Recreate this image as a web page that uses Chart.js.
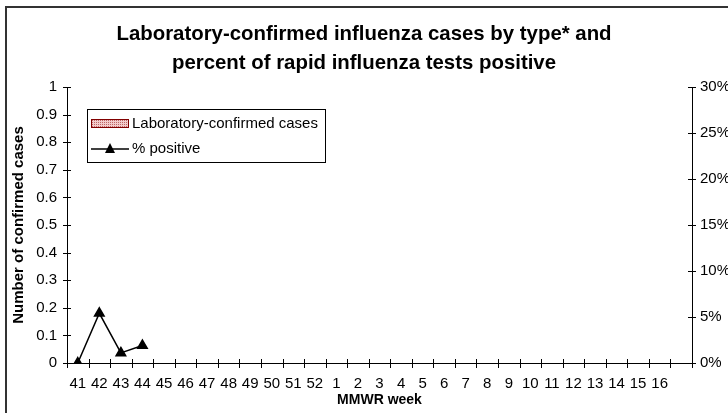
<!DOCTYPE html>
<html>
<head>
<meta charset="utf-8">
<script src="https://cdn.jsdelivr.net/npm/chart.js@4"></script>
<style>
  body { margin: 0; background: #fff; }
  #wrap { position: relative; width: 728px; height: 413px; }
</style>
</head>
<body>
<div id="wrap"><canvas id="chart"></canvas></div>
<script>
// weeks shown on the x axis (last slot is an unlabeled category)
const weeks = ["41","42","43","44","45","46","47","48","49","50","51","52",
               "1","2","3","4","5","6","7","8","9","10","11","12","13","14","15","16",""];
const labCases = [0, 0, 0, 0];
const pctPositive = [0, 5.4, 1.1, 1.9];
const titleLines = ["Laboratory-confirmed influenza cases by type* and",
                    "percent of rapid influenza tests positive"];

const FONT = "Arial, 'Liberation Sans', sans-serif";

// dotted pink fill like the legend swatch
function makePattern() {
    const c = document.createElement("canvas");
    c.width = 4; c.height = 4;
    const g = c.getContext("2d");
    g.fillStyle = "#f2cccc";
    g.fillRect(0, 0, 4, 4);
    g.fillStyle = "#c06666";
    g.fillRect(0, 0, 1, 1);
    g.fillRect(2, 2, 1, 1);
    g.fillRect(2, 0, 1, 1);
    g.fillRect(0, 2, 1, 1);
    return g.createPattern(c, "repeat");
}
const pattern = makePattern();

// outer frame + crossing tick marks + legend box
const decor = {
    id: "decor",
    beforeDraw(chart) {
        const ctx = chart.ctx;
        ctx.save();
        ctx.fillStyle = "#fff";
        ctx.fillRect(0, 0, chart.width, chart.height);
        ctx.strokeStyle = "#333";
        ctx.lineWidth = 2;
        ctx.strokeRect(6, 7, 900, 600);
        ctx.restore();
    },
    afterDraw(chart) {
        const ctx = chart.ctx;
        const x = chart.scales.x, y = chart.scales.y, y1 = chart.scales.y1;
        ctx.save();
        ctx.strokeStyle = "#000";
        ctx.lineWidth = 1;
        ctx.beginPath();
        y.ticks.forEach((t, i) => {
            const py = Math.round(y.getPixelForTick(i)) + 0.5;
            ctx.moveTo(y.right - 4, py); ctx.lineTo(y.right + 4, py);
        });
        y1.ticks.forEach((t, i) => {
            const py = Math.round(y1.getPixelForTick(i)) + 0.5;
            ctx.moveTo(y1.left - 4, py); ctx.lineTo(y1.left + 4, py);
        });
        const half = (x.getPixelForValue(1) - x.getPixelForValue(0)) / 2;
        for (let i = 0; i <= weeks.length; i++) {
            const px = Math.round(x.getPixelForValue(i) - half) + 0.5;
            ctx.moveTo(px, x.top - 4); ctx.lineTo(px, x.top + 5);
        }
        ctx.stroke();

        // legend
        const ca = chart.chartArea;
        const lx = ca.left + 20, ly = ca.top + 22;
        ctx.lineWidth = 1;
        ctx.strokeStyle = "#000";
        ctx.fillStyle = "#fff";
        ctx.fillRect(lx + 0.5, ly + 0.5, 238, 53);
        ctx.strokeRect(lx + 0.5, ly + 0.5, 238, 53);
        const ds = chart.data.datasets;
        ctx.fillStyle = pattern;
        ctx.fillRect(lx + 4.5, ly + 10.5, 37, 8);
        ctx.strokeStyle = "#800000";
        ctx.strokeRect(lx + 4.5, ly + 10.5, 37, 8);
        ctx.strokeStyle = "#000";
        ctx.lineWidth = 1.5;
        ctx.beginPath();
        ctx.moveTo(lx + 4, ly + 40); ctx.lineTo(lx + 42, ly + 40);
        ctx.stroke();
        ctx.fillStyle = "#000";
        ctx.beginPath();
        ctx.moveTo(lx + 23, ly + 34); ctx.lineTo(lx + 28, ly + 44); ctx.lineTo(lx + 18, ly + 44);
        ctx.closePath(); ctx.fill();
        ctx.font = "15px " + FONT;
        ctx.textBaseline = "middle";
        ctx.fillText(ds[0].label, lx + 45, ly + 15);
        ctx.fillText(ds[1].label, lx + 45, ly + 40);
        ctx.restore();
    }
};

new Chart(document.getElementById("chart"), {
    type: "bar",
    data: {
        labels: weeks,
        datasets: [
            {
                label: "Laboratory-confirmed cases",
                data: labCases,
                backgroundColor: pattern,
                borderColor: "#800000",
                borderWidth: 1,
                yAxisID: "y",
                order: 2
            },
            {
                type: "line",
                label: "% positive",
                data: pctPositive,
                borderColor: "#000",
                borderWidth: 1.5,
                pointStyle: "triangle",
                pointRadius: 5.5,
                pointBackgroundColor: "#000",
                pointBorderColor: "#000",
                tension: 0,
                yAxisID: "y1",
                order: 1
            }
        ]
    },
    options: {
        responsive: true,
        maintainAspectRatio: false,
        animation: false,
        layout: { padding: 0 },
        plugins: {
            legend: { display: false },
            tooltip: { enabled: false },
            title: {
                display: true,
                text: titleLines,
                color: "#000",
                font: { family: FONT, size: 20.4, weight: "bold", lineHeight: "29px" },
                padding: { top: 19.5, bottom: 9.5 }
            }
        },
        scales: {
            x: {
                offset: true,
                grid: { display: false, offset: true },
                border: { display: true, color: "#000" },
                ticks: { color: "#000", font: { family: FONT, size: 15 }, padding: 4,
                         autoSkip: false, maxRotation: 0 },
                title: { display: true, text: "MMWR week", color: "#000",
                         font: { family: FONT, size: 14, weight: "bold" },
                         padding: { top: 0, bottom: 4 } },
                afterFit(s) { s.height = 50; }
            },
            y: {
                position: "left",
                min: 0, max: 1,
                grid: { display: false },
                border: { display: true, color: "#000" },
                ticks: { stepSize: 0.1, color: "#000", font: { family: FONT, size: 15 }, padding: 2,
                         callback: v => String(Math.round(v * 10) / 10) },
                title: { display: true, text: "Number of confirmed cases", color: "#000",
                         font: { family: FONT, size: 15, weight: "bold" },
                         padding: { top: 9.5, bottom: 0 } },
                afterFit(s) { s.width = 67; }
            },
            y1: {
                position: "right",
                min: 0, max: 30,
                grid: { display: false },
                border: { display: true, color: "#000" },
                ticks: { stepSize: 5, color: "#000", font: { family: FONT, size: 15 }, padding: 0,
                         callback: v => v + "%" },
                afterFit(s) { s.width = 36; }
            }
        }
    },
    plugins: [decor]
});
</script>
</body>
</html>
